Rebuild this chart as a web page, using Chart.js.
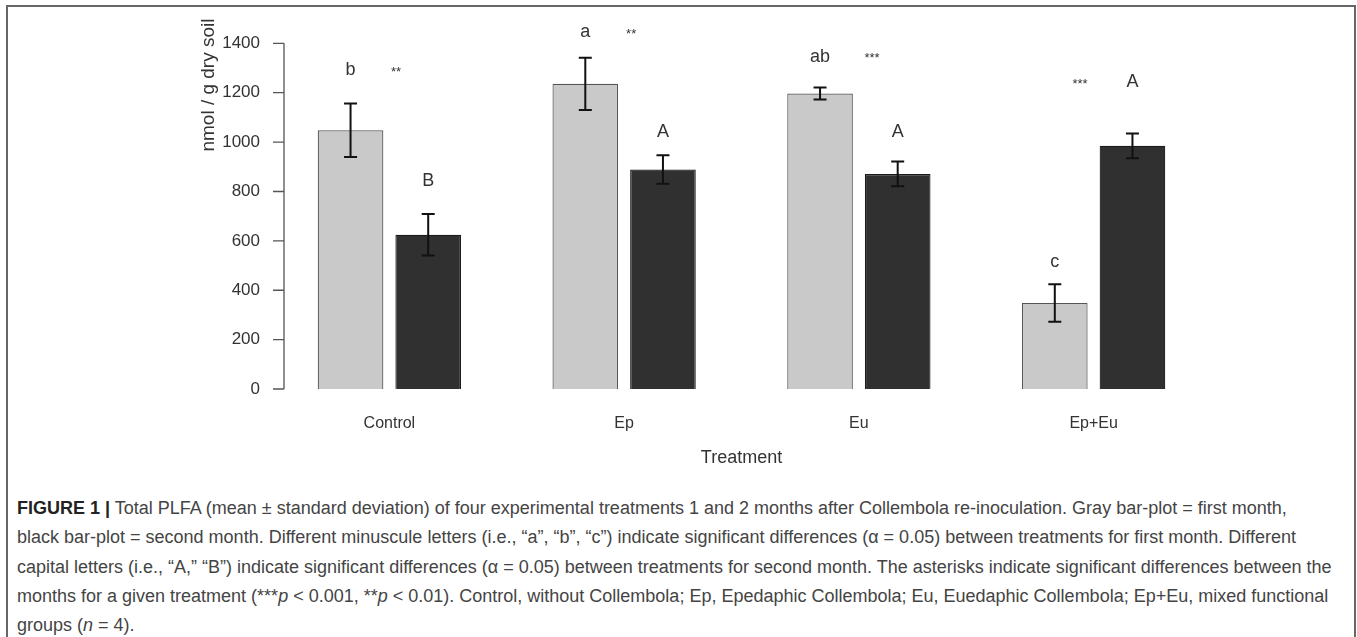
<!DOCTYPE html>
<html>
<head>
<meta charset="utf-8">
<script src="https://cdn.jsdelivr.net/npm/chart.js@4.4.1/dist/chart.umd.min.js"></script>
<style>
  html, body { margin: 0; padding: 0; background: #fff; }
  body { width: 1357px; height: 637px; position: relative; overflow: hidden; font-family: "Liberation Sans", Arial, sans-serif; }
  #frame { position: absolute; left: 6px; top: 5px; width: 1346px; height: 700px; border: 2px solid #666; border-bottom: none; }
  #wrap { position: absolute; left: 0; top: 0; width: 1357px; height: 480px; }
  #caption { position: absolute; left: 17px; top: 494px; font-size: 18px; line-height: 29.3px; color: #444; white-space: nowrap; }
  #caption b { color: #222; }
</style>
</head>
<body>
<div id="frame"></div>
<div id="wrap"><canvas id="chart"></canvas></div>
<div id="caption">
<b>FIGURE 1 |</b> Total PLFA (mean ± standard deviation) of four experimental treatments 1 and 2 months after Collembola re-inoculation. Gray bar-plot = first month,<br>
black bar-plot = second month. Different minuscule letters (i.e., “a”, “b”, “c”) indicate significant differences (α = 0.05) between treatments for first month. Different<br>
capital letters (i.e., “A,” “B”) indicate significant differences (α = 0.05) between treatments for second month. The asterisks indicate significant differences between the<br>
months for a given treatment (***<i>p</i> &lt; 0.001, **<i>p</i> &lt; 0.01). Control, without Collembola; Ep, Epedaphic Collembola; Eu, Euedaphic Collembola; Ep+Eu, mixed functional<br>
groups (<i>n</i> = 4).
</div>
<script>
// values (nmol / g dry soil)
const treatments = ["Control", "Ep", "Eu", "Ep+Eu"];
const month1 = [1048, 1236, 1197, 348];
const month1Sd = [108, 106, 24, 76];
const month2 = [625, 889, 871, 985];
const month2Sd = [84, 58, 50, 50];
const yTicks = [0, 200, 400, 600, 800, 1000, 1200, 1400];

// significance letters and their heights (in axis units)
const month1Letters = ["b", "a", "ab", "c"];
const month1LetterAt = [1292, 1446, 1345, 515];
const month2Letters = ["B", "A", "A", "A"];
const month2LetterAt = [843, 1041, 1041, 1243];
const stars = ["**", "**", "***", "***"];
const starsAt = [1292, 1446, 1345, 1243];
const starsShift = [0.028, 0.03, 0.056, -0.058];

const textColor = "#333";

const extras = {
    id: "extras",
    afterDatasetsDraw(chart) {
        const ctx = chart.ctx;
        const x = chart.scales.x, y = chart.scales.y;
        const ca = chart.chartArea;
        ctx.save();

        // R style y axis: line only from 0 to 1400, ticks outside
        const ax = ca.left + 12;
        ctx.strokeStyle = "#555";
        ctx.lineWidth = 1.3;
        ctx.beginPath();
        ctx.moveTo(ax, y.getPixelForValue(0));
        ctx.lineTo(ax, y.getPixelForValue(1400));
        yTicks.forEach(v => {
            let py = y.getPixelForValue(v);
            ctx.moveTo(ax, py);
            ctx.lineTo(ax - 11, py);
        });
        ctx.stroke();

        // y title
        ctx.save();
        ctx.translate(ca.left - 63, y.getPixelForValue(1231));
        ctx.rotate(-Math.PI / 2);
        ctx.fillStyle = textColor;
        ctx.font = "19px 'Liberation Sans', Arial, sans-serif";
        ctx.textAlign = "center";
        ctx.textBaseline = "middle";
        ctx.fillText("nmol / g dry soil", 0, 0);
        ctx.restore();

        // error bars
        let sets = [[month1, month1Sd], [month2, month2Sd]];
        ctx.strokeStyle = "#111";
        ctx.lineWidth = 2;
        sets.forEach((s, di) => {
            let meta = chart.getDatasetMeta(di);
            meta.data.forEach((bar, i) => {
                let top = y.getPixelForValue(s[0][i] + s[1][i]);
                let bot = y.getPixelForValue(s[0][i] - s[1][i]);
                ctx.beginPath();
                ctx.moveTo(bar.x, top); ctx.lineTo(bar.x, bot);
                ctx.moveTo(bar.x - 6.5, top); ctx.lineTo(bar.x + 6.5, top);
                ctx.moveTo(bar.x - 6.5, bot); ctx.lineTo(bar.x + 6.5, bot);
                ctx.stroke();
            });
        });

        // letters
        ctx.fillStyle = textColor;
        ctx.textAlign = "center";
        ctx.textBaseline = "middle";
        ctx.font = "18px 'Liberation Sans', Arial, sans-serif";
        let m1 = chart.getDatasetMeta(0).data, m2 = chart.getDatasetMeta(1).data;
        treatments.forEach((t, i) => {
            ctx.fillText(month1Letters[i], m1[i].x, y.getPixelForValue(month1LetterAt[i]));
            ctx.fillText(month2Letters[i], m2[i].x, y.getPixelForValue(month2LetterAt[i]));
        });
        ctx.font = "13px 'Liberation Sans', Arial, sans-serif";
        let step = x.getPixelForValue(1) - x.getPixelForValue(0);
        treatments.forEach((t, i) => {
            let px = x.getPixelForValue(i) + starsShift[i] * step;
            ctx.fillText(stars[i], px, y.getPixelForValue(starsAt[i]) + 2);
        });
        ctx.restore();
    }
};

const ctx = document.getElementById("chart").getContext("2d");
new Chart(ctx, {
    type: "bar",
    data: {
        labels: treatments,
        datasets: [{
            label: "First month",
            data: month1,
            backgroundColor: "#c9c9c9",
            borderColor: "#555",
            borderWidth: 1.2
        }, {
            label: "Second month",
            data: month2,
            backgroundColor: "#303030",
            borderColor: "#1a1a1a",
            borderWidth: 1.2
        }]
    },
    options: {
        responsive: true,
        maintainAspectRatio: false,
        animation: false,
        categoryPercentage: 0.6616,
        barPercentage: 0.845,
        layout: { padding: { left: 0, right: 146, top: 10, bottom: 0 } },
        plugins: {
            legend: { display: false },
            tooltip: { enabled: false }
        },
        scales: {
            x: {
                grid: { display: false, drawTicks: false },
                border: { display: false },
                ticks: {
                    color: textColor,
                    padding: 25,
                    font: { family: "'Liberation Sans', Arial, sans-serif", size: 16 }
                },
                title: {
                    display: true,
                    text: "Treatment",
                    color: textColor,
                    padding: { top: 0, bottom: 11 },
                    font: { family: "'Liberation Sans', Arial, sans-serif", size: 18 }
                },
                afterFit: s => { s.height = 91; }
            },
            y: {
                min: 0,
                max: 1535,
                grid: { display: false, drawTicks: false },
                border: { display: false },
                afterBuildTicks: s => { s.ticks = yTicks.map(v => ({ value: v })); },
                ticks: {
                    color: textColor,
                    padding: 12,
                    callback: v => String(v),
                    font: { family: "'Liberation Sans', Arial, sans-serif", size: 17 }
                },
                afterFit: s => { s.width = 272; s.paddingTop = 0; s.paddingBottom = 0; }
            }
        }
    },
    plugins: [extras]
});
</script>
</body>
</html>
